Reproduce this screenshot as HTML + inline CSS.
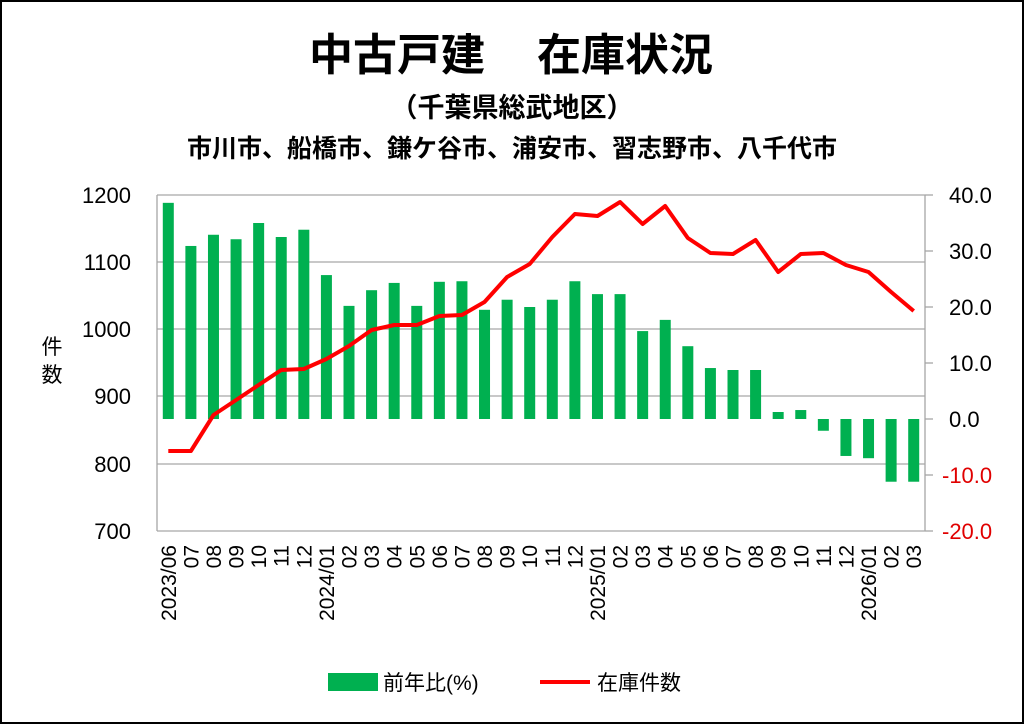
<!DOCTYPE html>
<html><head><meta charset="utf-8"><style>
html,body{margin:0;padding:0;background:#fff}
svg{display:block}
text{font-family:"Liberation Sans","Noto Sans CJK JP",sans-serif}
</style></head><body>
<svg width="1024" height="724" xmlns="http://www.w3.org/2000/svg">
<rect x="1" y="1" width="1022" height="722" fill="#fff" stroke="#000" stroke-width="2"/>
<text x="397" y="70" text-anchor="middle" font-size="44" font-weight="bold" font-family="Noto Sans CJK JP, sans-serif">中古戸建</text>
<text x="625" y="70" text-anchor="middle" font-size="44" font-weight="bold" font-family="Noto Sans CJK JP, sans-serif">在庫状況</text>
<text x="512" y="117" text-anchor="middle" font-size="27" font-weight="bold" font-family="Noto Sans CJK JP, sans-serif">（千葉県総武地区）</text>
<text x="512" y="157" text-anchor="middle" font-size="25" font-weight="bold" font-family="Noto Sans CJK JP, sans-serif">市川市、船橋市、鎌ケ谷市、浦安市、習志野市、八千代市</text>
<g stroke="#a6a6a6" stroke-width="1.3">
<line x1="157" x2="925" y1="195" y2="195"/>
<line x1="157" x2="925" y1="262" y2="262"/>
<line x1="157" x2="925" y1="329" y2="329"/>
<line x1="157" x2="925" y1="396" y2="396"/>
<line x1="157" x2="925" y1="464" y2="464"/>
<line x1="157" x2="925" y1="531" y2="531"/>
<line x1="157" x2="157" y1="195" y2="531"/>
<line x1="925" x2="925" y1="195" y2="531"/>
<line x1="925" x2="933" y1="195" y2="195"/><line x1="925" x2="933" y1="251" y2="251"/><line x1="925" x2="933" y1="307" y2="307"/><line x1="925" x2="933" y1="363" y2="363"/><line x1="925" x2="933" y1="419" y2="419"/><line x1="925" x2="933" y1="475" y2="475"/><line x1="925" x2="933" y1="531" y2="531"/>
</g>
<g id="bars" fill="#00b050"></g>
<polyline id="line" fill="none" stroke="#ff0000" stroke-width="4" stroke-linejoin="round"/>
<g font-size="22" text-anchor="end">
<text x="131" y="203">1200</text><text x="131" y="270">1100</text><text x="131" y="337">1000</text><text x="131" y="404">900</text><text x="131" y="472">800</text><text x="131" y="539">700</text>
</g>
<g font-size="22" text-anchor="start">
<text x="949" y="203">40.0</text><text x="949" y="259">30.0</text><text x="949" y="315">20.0</text><text x="949" y="371">10.0</text><text x="949" y="427">0.0</text>
<text x="942" y="483" fill="#e00000">-10.0</text><text x="942" y="539" fill="#e00000">-20.0</text>
</g>
<text x="52" y="354" font-size="21" text-anchor="middle" font-family="Noto Sans CJK JP, sans-serif">件</text>
<text x="52" y="382" font-size="21" text-anchor="middle" font-family="Noto Sans CJK JP, sans-serif">数</text>
<g id="xl" font-size="21"></g>
<rect x="328" y="673" width="50" height="18" fill="#00b050"/>
<text x="383" y="690" font-size="21" font-family="Noto Sans CJK JP, sans-serif">前年比(%)</text>
<line x1="540" x2="590" y1="682" y2="682" stroke="#ff0000" stroke-width="4"/>
<text x="597" y="690" font-size="21" font-family="Noto Sans CJK JP, sans-serif">在庫件数</text>
</svg>
<script>
var pct=[38.6,30.9,32.9,32.1,35,32.5,33.8,25.7,20.2,23,24.3,20.2,24.5,24.6,19.5,21.3,20,21.3,24.6,22.3,22.3,15.7,17.7,13,9.1,8.75,8.75,1.25,1.6,-2.1,-6.6,-7,-11.2,-11.2];
var ly=[451,451,415,400,385,370,369,359,346,330,325,325,316,315,302,277,264,237,214,216,202,224,206,238,253,254,240,272,254,253,265,272,292,311];
var lab=["2023/06","07","08","09","10","11","12","2024/01","02","03","04","05","06","07","08","09","10","11","12","2025/01","02","03","04","05","06","07","08","09","10","11","12","2026/01","02","03"];
var ns="http://www.w3.org/2000/svg",b=document.getElementById('bars'),xl=document.getElementById('xl'),pts=[];
for(var i=0;i<34;i++){var cx=157+(i+0.5)*768/34;var y0=419,y1=419-pct[i]*5.6;
var r=document.createElementNS(ns,'rect');r.setAttribute('x',cx-5.5);r.setAttribute('width',11);r.setAttribute('y',Math.min(y0,y1));r.setAttribute('height',Math.abs(y1-y0));b.appendChild(r);
pts.push(cx.toFixed(1)+','+ly[i]);
var t=document.createElementNS(ns,'text');t.setAttribute('transform','translate('+(cx+7.5)+',545) rotate(-90)');t.setAttribute('text-anchor','end');t.textContent=lab[i];xl.appendChild(t);}
document.getElementById('line').setAttribute('points',pts.join(' '));
</script>
</body></html>
